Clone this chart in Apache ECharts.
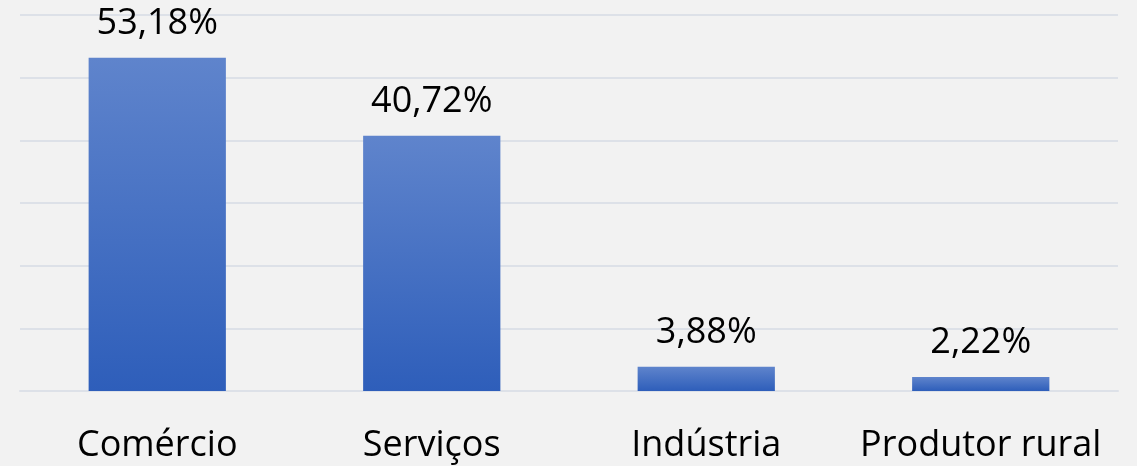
<!DOCTYPE html>
<html>
<head>
<meta charset="utf-8">
<script src="https://cdn.jsdelivr.net/npm/echarts@6/dist/echarts.min.js"></script>
<style>
  html, body { margin: 0; padding: 0; background: #f2f2f2; }
  #chart { width: 1137px; height: 466px; }
</style>
</head>
<body>
<div id="chart"></div>
<script>
// dados do gráfico
var categorias = ['Comércio', 'Serviços', 'Indústria', 'Produtor rural'];
var valores = [53.18, 40.72, 3.88, 2.22];

var myChart = echarts.init(document.getElementById('chart'));

myChart.setOption({
    backgroundColor: '#f2f2f2',
    animation: false,
    grid: {
        left: 20,
        right: 19,
        top: 15,
        bottom: 75
    },
    xAxis: {
        type: 'category',
        data: categorias,
        axisTick: { show: false },
        axisLine: { lineStyle: { color: '#dde1e8', width: 2 } },
        axisLabel: {
            interval: 0,
            color: '#000',
            fontFamily: 'Open Sans',
            fontSize: 36,
            margin: 37
        }
    },
    yAxis: {
        type: 'value',
        min: 0,
        max: 60,
        interval: 10,
        axisLabel: { show: false },
        axisLine: { show: false },
        axisTick: { show: false },
        splitLine: { lineStyle: { color: '#dde1e8', width: 2 } }
    },
    series: [{
        type: 'bar',
        data: valores,
        barWidth: '50%',
        itemStyle: {
            color: new echarts.graphic.LinearGradient(0, 0, 0, 1, [
                { offset: 0, color: '#5f84cc' },
                { offset: 1, color: '#2e5eba' }
            ])
        },
        label: {
            show: true,
            position: 'top',
            distance: 16,
            color: '#000',
            fontFamily: 'Open Sans',
            fontSize: 36,
            formatter: function (p) {
                return p.value.toFixed(2).replace('.', ',') + '%';
            }
        }
    }]
});
</script>
</body>
</html>
